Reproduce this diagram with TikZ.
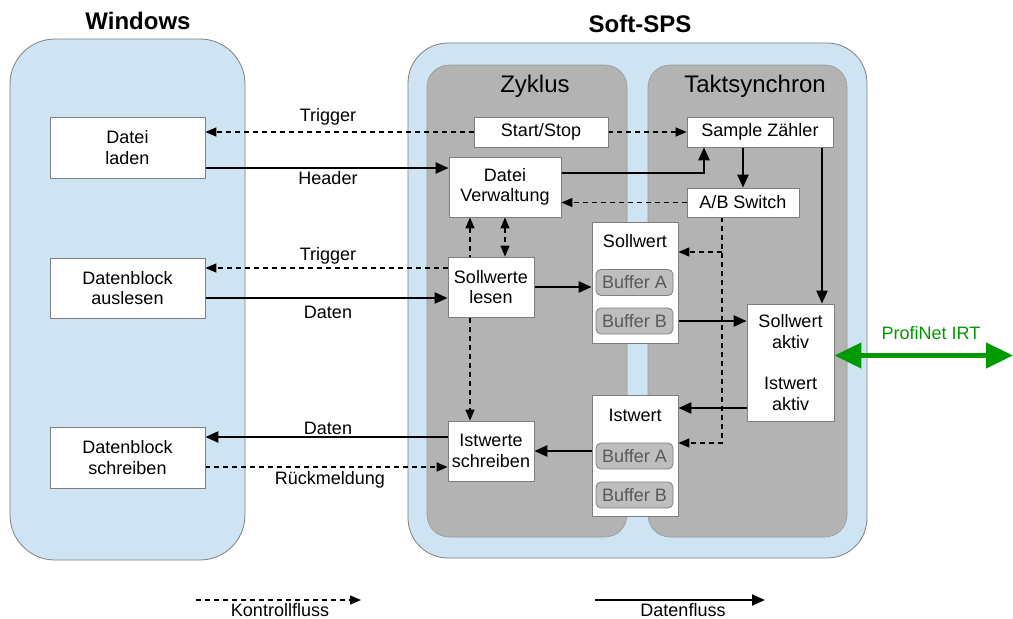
\documentclass[tikz,border=0pt]{standalone}
\usepackage{fontspec}
\setmainfont{Liberation Sans}
\usetikzlibrary{arrows.meta,calc}
\pgfdeclarelayer{back}
\pgfdeclarelayer{mid}
\pgfsetlayers{back,mid,main}

\definecolor{paneblue}{HTML}{CFE4F3}
\definecolor{panegray}{HTML}{B3B3B3}
\definecolor{edgegray}{HTML}{7F7F7F}
\definecolor{bufgray}{HTML}{BEBEBE}
\definecolor{buftext}{HTML}{595959}
\definecolor{netgreen}{HTML}{009900}

\tikzset{
  ctip/.tip={Triangle[length=11pt,width=9pt]},
  dtip/.tip={Triangle[length=13pt,width=11pt]},
  gtip/.tip={Triangle[length=27pt,width=25pt]},
  lbl/.style={font=\fontsize{18}{20.5}\selectfont, inner sep=0pt},
  box/.style={draw=edgegray, line width=0.8pt, fill=white, align=center,
              inner sep=0pt, font=\fontsize{18}{20.5}\selectfont},
  buffer/.style={draw=edgegray, line width=0.8pt, fill=bufgray, rounded corners=5pt,
              text=buftext, minimum width=77pt, minimum height=26pt, inner sep=0pt,
              font=\fontsize{18}{20.5}\selectfont},
  maintitle/.style={font=\fontsize{24}{28}\selectfont\bfseries, inner sep=0pt},
  paneltitle/.style={font=\fontsize{24}{28}\selectfont, inner sep=0pt},
  data/.style={line width=2.5pt, -dtip},
  ctrl/.style={line width=1.4pt, dash pattern=on 5pt off 4pt, -ctip},
  ctrlboth/.style={line width=1.4pt, dash pattern=on 5pt off 4pt, ctip-ctip},
}

\begin{document}
\begin{tikzpicture}[x=1pt,y=-1pt]
\useasboundingbox (0,0) rectangle (1013,619);

% containers
\begin{pgfonlayer}{back}
  \draw[fill=paneblue, draw=edgegray, line width=0.8pt, rounded corners=45pt]
    (10,39) rectangle (245,560);
  \draw[fill=paneblue, draw=edgegray, line width=0.8pt, rounded corners=40pt]
    (408,43) rectangle (867,558);
  \draw[fill=panegray, draw=edgegray!80, line width=0.6pt, rounded corners=22pt]
    (427,65) rectangle (627,537);
  \draw[fill=panegray, draw=edgegray!80, line width=0.6pt, rounded corners=22pt]
    (648,65) rectangle (847,537);
\end{pgfonlayer}

\node[maintitle] (tWin) at (138,21) {Windows};
\node[maintitle] (tSps) at (640,24) {Soft-SPS};
\node[paneltitle] (tZyk) at (535,86) {Zyklus};
\node[paneltitle] (tTakt) at (755,86) {Taktsynchron};

% Windows side
\node[box, minimum width=155pt, minimum height=61pt] (laden) at (127.5,147.5) {Datei\\laden};
\node[box, minimum width=155pt, minimum height=60pt] (auslesen) at (127.5,288) {Datenblock\\auslesen};
\node[box, minimum width=155pt, minimum height=61pt] (schreibW) at (127.5,457.5) {Datenblock\\schreiben};

% Zyklus
\node[box, minimum width=134pt, minimum height=30pt] (start) at (541,132) {Start/Stop};
\node[box, minimum width=112pt, minimum height=60pt] (verw) at (505,187) {Datei\\Verwaltung};
\node[box, minimum width=86pt, minimum height=60pt] (lesen) at (491,287) {Sollwerte\\lesen};
\node[box, minimum width=86pt, minimum height=60pt] (istschr) at (491,451) {Istwerte\\schreiben};

% Taktsynchron
\node[box, minimum width=146pt, minimum height=30pt] (sample) at (760,132) {Sample Zähler};
\node[box, minimum width=112pt, minimum height=29pt] (abswitch) at (743,202.5) {A/B Switch};
\node[box, minimum width=87pt, minimum height=117pt] (aktiv) at (790.5,362.5)
  {Sollwert\\aktiv\\[21pt]Istwert\\aktiv};

% buffers between both cycles
\node[box, minimum width=86pt, minimum height=121pt] (soll) at (635,282.5) {};
\node[lbl] (sollT) at (635,241) {Sollwert};
\node[buffer] (bufSA) at (634.5,282.5) {Buffer A};
\node[buffer] (bufSB) at (634.5,321) {Buffer B};

\node[box, minimum width=86pt, minimum height=121pt] (ist) at (635,455.5) {};
\node[lbl] (istT) at (635,415) {Istwert};
\node[buffer] (bufIA) at (634.5,456) {Buffer A};
\node[buffer] (bufIB) at (634.5,495) {Buffer B};

% edge labels
\node[lbl] (l1) at (328,117) {Trigger};
\node[lbl] (l2) at (328,178) {Header};
\node[lbl] (l3) at (328,256) {Trigger};
\node[lbl] (l4) at (328,312) {Daten};
\node[lbl] (l5) at (328,428) {Daten};
\node[lbl] (l6) at (330,480) {Rückmeldung};
\node[lbl, text=netgreen] (l7) at (931,333) {ProfiNet IRT};

% helper points
\coordinate (abS) at ($(abswitch.south)+(-21,0)$);
\coordinate (sollIn) at ($(soll.east)+(0,-30.5)$);
\coordinate (istIn) at ($(ist.east)+(0,-12.5)$);
\coordinate (szOut) at ($(sample.south)+(62,0)$);
\coordinate (netEnd) at (1013,355.5);
\coordinate (kfA) at (196,600);
\coordinate (kfB) at (361,600);
\coordinate (dfA) at (595,600);
\coordinate (dfB) at (765,600);

\begin{pgfonlayer}{mid}
  % control flow
  \draw[ctrl] (start.west) -- (start.west -| laden.east);
  \draw[ctrl] (start.east) -- (sample.west);
  \draw[ctrl] (abswitch.west) -- (abswitch.west -| verw.east);
  \draw[ctrl] (abS) |- (istIn);
  \draw[ctrl] (abS |- sollIn) -- (sollIn);
  \draw[ctrlboth] ($(verw.south)+(-35,0)$) -- ($(istschr.north)+(-21,0)$);
  \draw[ctrlboth] (verw.south) -- (verw.south |- lesen.north);
  \draw[ctrl] ($(lesen.west)+(0,-19)$) -- ($(auslesen.east)+(0,-20)$);
  \draw[ctrl] ($(schreibW.east)+(0,9.5)$) -- ($(istschr.west)+(0,16)$);

  % data flow
  \draw[data] ($(laden.east)+(0,20.5)$) -- ($(laden.east -| verw.west)+(0,20.5)$);
  \draw[data] ($(verw.east)+(0,-14)$) -| ($(sample.south)+(-56,0)$);
  \draw[data] (abswitch.north |- sample.south) -- (abswitch.north);
  \draw[data] (szOut) -- (szOut |- aktiv.north);
  \draw[data] ($(auslesen.east)+(0,10)$) -- ($(lesen.west)+(0,11)$);
  \draw[data] (lesen.east) -- (lesen.east -| soll.west);
  \draw[data] (soll.east |- bufSB) -- (aktiv.west |- bufSB);
  \draw[data] ($(aktiv.west)+(0,45.5)$) -- ($(ist.east)+(0,-47.5)$);
  \draw[data] (ist.west |- istschr.east) -- (istschr.east);
  \draw[data] ($(istschr.west)+(0,-14)$) -- ($(schreibW.east)+(0,-20.5)$);

  % field bus
  \draw[line width=4.5pt, draw=netgreen, fill=netgreen, gtip-gtip]
    ($(aktiv.east)+(0,-7)$) -- (netEnd);

  % legend
  \draw[ctrl, line width=1.3pt] (kfA) -- (kfB);
  \draw[line width=2pt, -dtip] (dfA) -- (dfB);
\end{pgfonlayer}

\node[lbl] (kfL) at (280,610) {Kontrollfluss};
\node[lbl] (dfL) at (683,610) {Datenfluss};
\end{tikzpicture}
\end{document}
